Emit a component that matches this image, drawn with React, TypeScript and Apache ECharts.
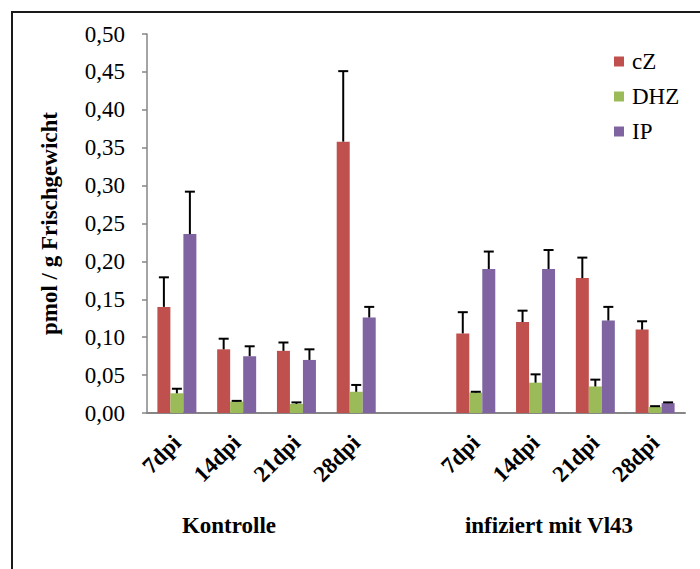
import React, { useEffect, useRef } from "react";
import * as echarts from "echarts";

const categories = ["7dpi", "14dpi", "21dpi", "28dpi", "", "7dpi", "14dpi", "21dpi", "28dpi"];
const seriesNames = ["cZ", "DHZ", "IP"];
const cZ = [0.14, 0.084, 0.082, 0.358, 0, 0.105, 0.12, 0.178, 0.11];
const cZSd = [0.039, 0.014, 0.011, 0.093, 0, 0.028, 0.015, 0.027, 0.011];
const DHZ = [0.026, 0.015, 0.012, 0.028, 0, 0.027, 0.04, 0.035, 0.008];
const DHZSd = [0.006, 0.001, 0.002, 0.009, 0, 0.001, 0.011, 0.009, 0.001];
const IP = [0.236, 0.075, 0.07, 0.126, 0, 0.19, 0.19, 0.122, 0.013];
const IPSd = [0.056, 0.013, 0.014, 0.014, 0, 0.023, 0.025, 0.018, 0.001];
const groupLabels = ["Kontrolle", "infiziert mit Vl43"];

const colors = ["#C0504D", "#9BBB59", "#8064A2"];
const FONT = "Liberation Serif";
const BAR_W = 13;

export default function App() {
  const ref = useRef<HTMLDivElement>(null);
  useEffect(() => {
    if (!ref.current) return;
    const chart = echarts.init(ref.current, undefined, { renderer: "svg" });
    const values = [cZ, DHZ, IP];
    const sdArr = [cZSd, DHZSd, IPSd];

    const barSeries = values.map((vals, i) => ({
      name: seriesNames[i],
      type: "bar",
      data: vals,
      barWidth: BAR_W,
      barGap: "0%",
      itemStyle: { color: colors[i] },
      z: 2,
    }));

    const errSeries = values.map((vals, i) => ({
      name: seriesNames[i] + "_err",
      type: "custom",
      z: 3,
      data: vals.map((v, k) => [k, v, v + sdArr[i][k]]),
      renderItem: (params: any, api: any) => {
        const k = api.value(0);
        const v = api.value(1);
        const top = api.value(2);
        if (top <= v) return null;
        const p0 = api.coord([k, v]);
        const p1 = api.coord([k, top]);
        const x = p0[0] + (i - 1) * BAR_W;
        const half = 5;
        return {
          type: "group",
          children: [
            {
              type: "line",
              shape: { x1: x, y1: p0[1], x2: x, y2: p1[1] },
              style: { stroke: "#000", lineWidth: 2 },
            },
            {
              type: "line",
              shape: { x1: x - half, y1: p1[1], x2: x + half, y2: p1[1] },
              style: { stroke: "#000", lineWidth: 2 },
            },
          ],
        };
      },
    }));

    chart.setOption({
      animation: false,
      color: colors,
      textStyle: { fontFamily: FONT },
      grid: { left: 147, right: 15, top: 34, bottom: 156, containLabel: false },
      legend: {
        data: seriesNames,
        orient: "vertical",
        left: 609,
        top: 45,
        icon: "rect",
        itemWidth: 10,
        itemHeight: 10,
        itemGap: 12,
        textStyle: { fontFamily: FONT, fontSize: 23, color: "#000", padding: [0, 0, 0, 3] },
      },
      xAxis: {
        type: "category",
        data: categories,
        axisLine: { lineStyle: { color: "#868686", width: 2 } },
        axisTick: { show: false },
        axisLabel: {
          interval: 0,
          rotate: 45,
          margin: 26,
          fontFamily: FONT,
          fontWeight: "bold",
          fontSize: 23,
          color: "#000",
        },
      },
      yAxis: {
        type: "value",
        min: 0,
        max: 0.5,
        interval: 0.05,
        name: "pmol / g Frischgewicht",
        nameLocation: "middle",
        nameGap: 86,
        nameTextStyle: { fontFamily: FONT, fontWeight: "bold", fontSize: 23, color: "#000" },
        axisLine: { show: true, lineStyle: { color: "#868686", width: 1.5 } },
        axisTick: { show: true, length: 5, lineStyle: { color: "#868686", width: 1.5 } },
        splitLine: { show: false },
        axisLabel: {
          margin: 22,
          fontFamily: FONT,
          fontSize: 23,
          color: "#000",
          formatter: (v: number) => v.toFixed(2).replace(".", ","),
        },
      },
      graphic: [
        {
          type: "rect",
          shape: { x: 12, y: 12, width: 720, height: 600 },
          style: { fill: "none", stroke: "#1a1a1a", lineWidth: 2 },
          silent: true,
        },
        {
          type: "text",
          x: 229,
          y: 525,
          style: {
            text: groupLabels[0],
            fontFamily: FONT,
            fontWeight: "bold",
            fontSize: 23,
            fill: "#000",
            align: "center",
            verticalAlign: "middle",
          },
        },
        {
          type: "text",
          x: 549,
          y: 525,
          style: {
            text: groupLabels[1],
            fontFamily: FONT,
            fontWeight: "bold",
            fontSize: 23,
            fill: "#000",
            align: "center",
            verticalAlign: "middle",
          },
        },
      ],
      series: [...barSeries, ...errSeries],
    });
    return () => chart.dispose();
  }, []);
  return (
    <div
      ref={ref}
      style={{ position: "fixed", left: 0, top: 0, width: 700, height: 569, background: "#fff" }}
    />
  );
}
